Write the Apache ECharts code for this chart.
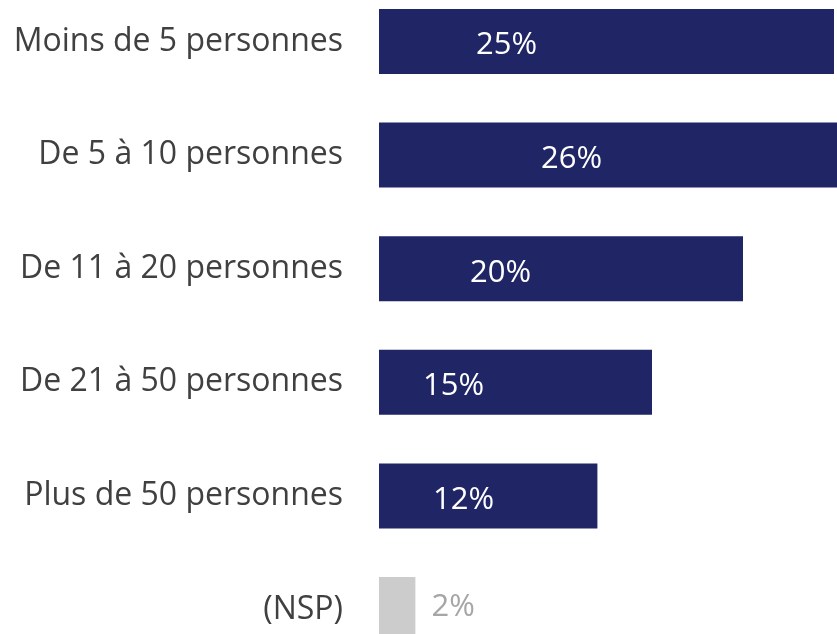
<!DOCTYPE html>
<html>
<head>
<meta charset="utf-8">
<script src="https://cdn.jsdelivr.net/npm/echarts@6/dist/echarts.min.js"></script>
<style>
  html, body { margin: 0; padding: 0; background: #fff; }
  #chart { width: 837px; height: 634px; }
</style>
</head>
<body>
<div id="chart"></div>
<script>
// categories, top to bottom
const categories = [
    'Moins de 5 personnes',
    'De 5 à 10 personnes',
    'De 11 à 20 personnes',
    'De 21 à 50 personnes',
    'Plus de 50 personnes',
    '(NSP)'
];
// share of respondents, %
const values = [25, 26, 20, 15, 12, 2];

// label left edge inside each bar (px from bar start)
const labelLeft = [97, 162, 91, 44, 54];

const myChart = echarts.init(document.getElementById('chart'));

const seriesData = values.map(function (v, i) {
    // last one (NSP) is grey with its label outside
    if (i === values.length - 1) {
        return {
            value: v,
            itemStyle: { color: '#cccccc' },
            label: { position: 'right', distance: 16, color: '#a6a6a6', offset: [0, -2] }
        };
    }
    return {
        value: v,
        label: { position: [labelLeft[i], '50%'], verticalAlign: 'middle', offset: [0, 4] }
    };
});

const option = {
    animation: false,
    grid: {
        left: 379,
        top: -15.3,
        width: 18.2 * 26,
        height: 681.6,
        containLabel: false,
        outerBoundsMode: 'none'
    },
    xAxis: {
        type: 'value',
        min: 0,
        max: 26,
        show: false
    },
    yAxis: {
        type: 'category',
        inverse: true,
        data: categories,
        axisLine: { show: false },
        axisTick: { show: false },
        axisLabel: {
            margin: 36,
            color: '#404040',
            fontSize: 32,
            fontFamily: 'Open Sans'
        }
    },
    series: [{
        type: 'bar',
        data: seriesData,
        barWidth: 65,
        itemStyle: { color: '#1f2565' },
        label: {
            show: true,
            formatter: '{c}%',
            color: '#ffffff',
            fontSize: 31,
            fontFamily: 'Open Sans'
        }
    }]
};
myChart.setOption(option);
</script>
</body>
</html>
